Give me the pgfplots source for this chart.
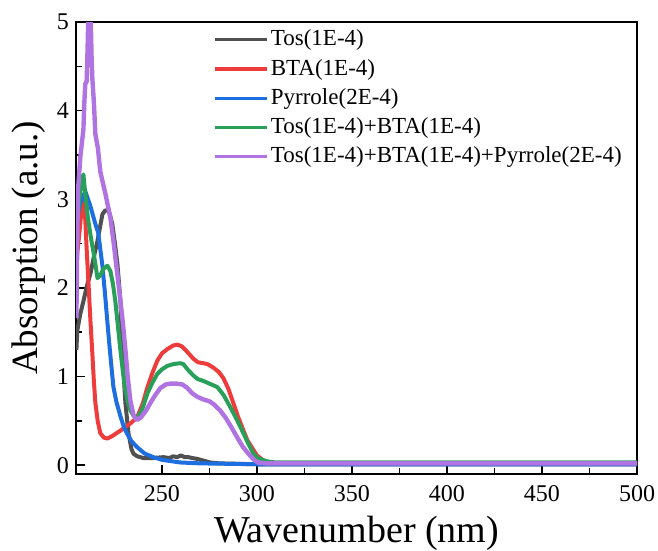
\documentclass[border=0pt]{standalone}
\usepackage{pgfplots}
\pgfplotsset{compat=1.18}
\usepackage{pgfplotstable}
\usepackage{fontspec}
\setmainfont{Liberation Serif}
\definecolor{cTos}{RGB}{80,80,80}
\definecolor{cBTA}{RGB}{238,60,60}
\definecolor{cPyr}{RGB}{28,110,225}
\definecolor{cTB}{RGB}{40,160,90}
\definecolor{cAll}{RGB}{176,116,226}

\pgfplotstableread{
x y
205 1.30
205.5 1.52
207 1.70
208.7 1.85
210.5 2.02
212.4 2.16
214 2.33
216.1 2.53
218.7 2.83
220 2.87
221.3 2.88
222.5 2.84
223.9 2.72
225.3 2.50
226.6 2.27
228.2 1.85
229.2 1.26
230.8 0.70
232.4 0.36
234 0.18
235 0.13
237 0.10
240.3 0.08
245 0.08
250.8 0.09
254 0.08
256 0.10
258 0.09
260 0.11
262 0.09
264 0.09
266 0.08
268.7 0.07
272 0.05
275.5 0.03
280 0.02
300 0.01
500 0.01
}\tos

\pgfplotstableread{
x y
205 2.30
206.5 2.60
207.8 2.90
208.7 2.98
209.5 2.85
210.5 2.40
211.5 2.00
212.4 1.63
213.4 1.26
214.2 0.95
215 0.70
216.2 0.50
217.6 0.36
219.5 0.31
221.3 0.30
224 0.33
228.2 0.39
233.4 0.47
237 0.54
240 0.70
242.4 0.88
245 1.04
247.6 1.18
250 1.26
252.9 1.31
256 1.35
258.2 1.36
260.5 1.34
262.4 1.30
264.5 1.25
266.6 1.20
269 1.16
271.8 1.15
274 1.14
277.1 1.10
280 1.05
282.4 0.98
285 0.86
287.6 0.70
290 0.55
292.9 0.39
295 0.28
297.6 0.19
300 0.11
301.8 0.08
304 0.04
308 0.02
500 0.02
}\bta

\pgfplotstableread{
x y
205 2.75
207 2.95
209.7 3.09
212.4 2.92
215 2.72
216.5 2.62
218.7 2.25
220 1.95
221.3 1.62
222.4 1.35
223.5 1.10
224.5 0.88
226 0.72
228.2 0.55
230 0.43
231.8 0.35
234 0.27
237.1 0.20
241 0.13
245.5 0.09
250 0.06
259.7 0.03
270 0.02
300 0.01
500 0.01
}\pyr

\pgfplotstableread{
x y
205 2.60
206.5 3.00
208 3.22
208.7 3.28
209.7 3.06
211 2.80
212.4 2.60
214 2.40
215 2.27
216.1 2.11
217.5 2.14
219.5 2.22
221.3 2.25
222.9 2.19
224.2 2.05
225.5 1.85
226.8 1.58
228.2 1.29
229.5 1.05
230.8 0.84
232 0.72
233.4 0.62
235 0.56
237.1 0.53
239.5 0.62
242.4 0.81
245 0.93
247.6 1.03
250 1.08
252.9 1.12
256 1.14
259.7 1.15
261.3 1.14
263.5 1.08
266.6 1.01
269 0.97
271.8 0.95
275 0.92
279.2 0.88
282.5 0.79
286.1 0.65
289.5 0.51
292.9 0.36
295.5 0.24
298.2 0.13
300.5 0.08
302.9 0.06
306 0.04
310 0.03
500 0.03
}\tb

\pgfplotstableread{
x y
205 1.66
205.4 2.40
205.8 3.09
207.1 3.48
208.7 3.79
209.2 4.10
209.7 4.30
210.4 4.33
210.9 4.70
211.4 5.20
212.3 5.30
213.0 4.60
213.4 4.36
214.2 4.10
215 3.73
216.3 3.58
217.6 3.31
220.3 3.06
222.9 2.79
224.5 2.53
226.3 2.20
228.2 1.85
229.5 1.60
230.8 1.30
232 1.00
233.4 0.73
235 0.57
236 0.53
237.1 0.51
239 0.54
241.5 0.61
243.9 0.70
246.5 0.79
249.2 0.87
252 0.91
254.5 0.92
257.5 0.92
260.8 0.91
263.4 0.87
266 0.81
268.7 0.77
272 0.74
275 0.72
277.1 0.69
280.5 0.62
283.4 0.54
286.5 0.43
289.7 0.31
292.5 0.21
295.5 0.13
298 0.07
300.3 0.03
305 0.02
500 0.02
}\all

\begin{document}
\begin{tikzpicture}
\begin{axis}[
  name=ax,
  scale only axis,
  width=280.5pt, height=226pt,
  xmin=204.8, xmax=500,
  ymin=-0.1, ymax=5,
  xtick={250,300,350,400,450,500},
  ytick={0,1,2,3,4,5},
  minor x tick num=1,
  minor y tick num=1,
  xtick pos=bottom, ytick pos=left,
  tick align=inside,
  major tick length=4.5pt,
  minor tick length=2.8pt,
  every tick/.style={black, line width=0.75pt},
  axis line style={black, line width=0.75pt},
  tick label style={font=\fontsize{12}{14}\selectfont},
  xticklabel style={yshift=-2pt},
  /pgf/number format/assume math mode=true,
  xlabel={Wavenumber (nm)},
  ylabel={Absorption (a.u.)},
  xlabel style={font=\fontsize{19}{21}\selectfont, at={(axis description cs:0.5,-0.151)}, anchor=base},
  ylabel style={font=\fontsize{18.5}{20}\selectfont, at={(axis description cs:-0.068,0.5)}, anchor=base},
  legend cell align=left,
  legend style={at={(axis description cs:0.244,0.994)}, anchor=north west,
    draw=none, fill=none, inner sep=0pt,
    font=\fontsize{11.5}{14}\selectfont,
    nodes={inner sep=1.2pt, text height=9.2pt, text depth=3.0pt}},
  legend image code/.code={\draw[#1, line width=1.6pt] (0pt,0pt) -- (26pt,0pt);},
  every axis plot/.append style={line width=2pt, line join=round},
]
\addplot[cTos] table[x=x,y=y] {\tos};
\addlegendentry{Tos(1E-4)}
\addplot[cBTA] table[x=x,y=y] {\bta};
\addlegendentry{BTA(1E-4)}
\addplot[cPyr] table[x=x,y=y] {\pyr};
\addlegendentry{Pyrrole(2E-4)}
\addplot[cTB] table[x=x,y=y] {\tb};
\addlegendentry{Tos(1E-4)+BTA(1E-4)}
\addplot[cAll, line width=2.2pt] table[x=x,y=y] {\all};
\addlegendentry{Tos(1E-4)+BTA(1E-4)+Pyrrole(2E-4)}
\end{axis}
\pgfresetboundingbox
\path[use as bounding box] ([xshift=-38pt,yshift=-38.5pt]ax.south west) rectangle ([xshift=10.5pt,yshift=11pt]ax.north east);
\end{tikzpicture}
\end{document}
